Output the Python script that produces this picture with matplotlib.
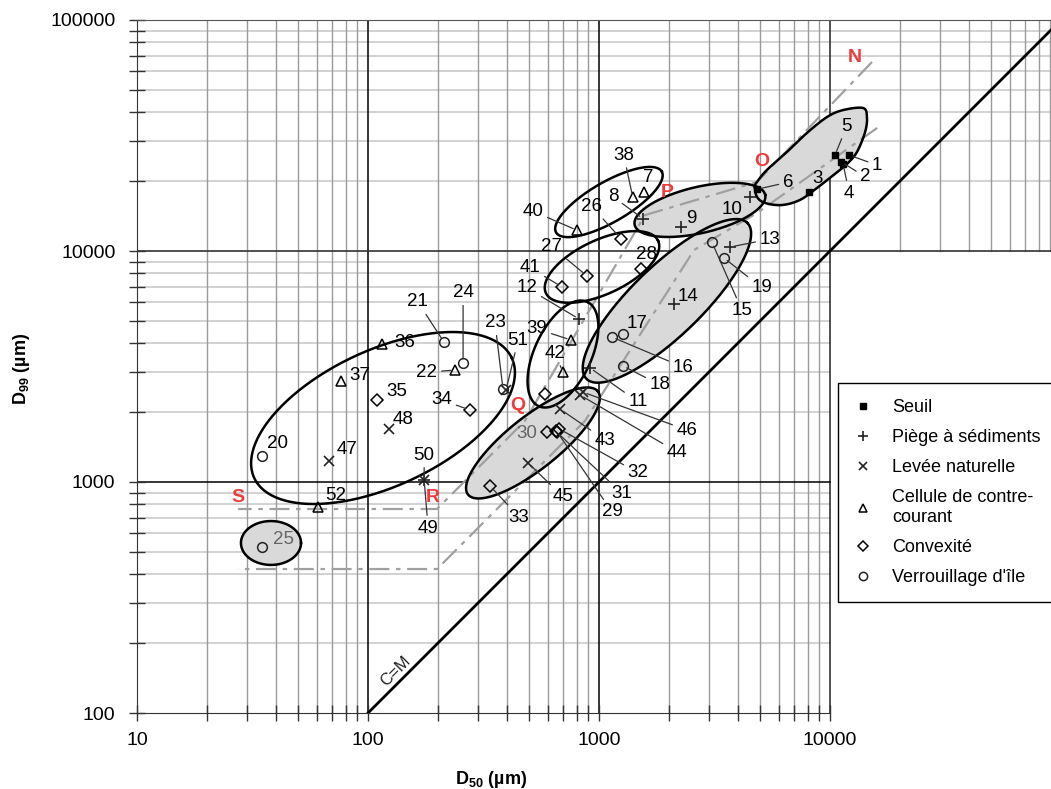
import numpy as np
import matplotlib
matplotlib.use('Agg')
import matplotlib.pyplot as plt
from matplotlib.lines import Line2D
from matplotlib.ticker import FixedLocator, FixedFormatter, NullFormatter

plt.rcParams['font.family'] = ['Liberation Sans', 'DejaVu Sans']
plt.rcParams['mathtext.fontset'] = 'custom'
plt.rcParams['mathtext.rm'] = 'Liberation Sans'
plt.rcParams['mathtext.bf'] = 'Liberation Sans:bold'

# Echantillons par type de milieu : numero, D50 (um), D99 (um)
seuil_id = ['1', '2', '3', '4', '5', '6']
seuil_d50 = [12100, 11200, 8100, 11400, 10500, 4830]
seuil_d99 = [26000, 24300, 18000, 23800, 26000, 18500]

piege_id = ['8', '9', '10', '11', '12', '13', '14', '49']
piege_d50 = [1550, 2270, 4500, 914, 819, 3690, 2110, 175]
piege_d99 = [13800, 12700, 17100, 3120, 5080, 10400, 5900, 1020]

levee_id = ['43', '44', '45', '46', '47', '48', '50', '51']
levee_d50 = [678, 828, 493, 852, 67.8, 123, 175, 396]
levee_d99 = [2070, 2380, 1210, 2450, 1230, 1700, 1020, 2500]

cellule_id = ['7', '22', '36', '37', '38', '39', '40', '42', '52']
cellule_d50 = [1565, 238, 115, 76.4, 1400, 756, 803, 698, 60.8]
cellule_d99 = [18000, 3050, 3960, 2740, 17100, 4120, 12300, 2990, 779]

convex_id = ['26', '27', '28', '29', '30', '31', '32', '33', '34', '35', '41', '']
convex_d50 = [1245, 887, 1520, 658, 596, 650, 671, 338, 276, 109, 692, 584]
convex_d99 = [11300, 7800, 8360, 1650, 1650, 1660, 1700, 960, 2050, 2270, 6990, 2400]

verrou_id = ['15', '16', '17', '18', '19', '20', '21', '23', '24', '25']
verrou_d50 = [3085, 1138, 1270, 1270, 3476, 34.8, 213, 384, 258, 34.8]
verrou_d99 = [10900, 4240, 4370, 3180, 9330, 1300, 4040, 2530, 3280, 523]

# Limites du diagramme de Passega (segments NO, OP, PQ, QR, RS)
passega_pts = ['N', 'O', 'P', 'Q', 'R', 'S']
haut_m = [15200, 4830, 1580, 478, 199, 27.4]
haut_c = [65800, 19900, 14300, 1840, 764, 764]
bas_m = [16000, 4830, 2580, 870, 199, 27.4]
bas_c = [34100, 14600, 10100, 1840, 420, 420]

# decalage des etiquettes en pixels (dx, dy, trait de rappel)
lab_pos = {
    '1': (28, -10, True), '2': (24, -15, True), '3': (9, 14, False), '4': (6, -29, True),
    '5': (12, 29, True), '6': (31, 7, True), '7': (4, 15, False), '8': (-30, 22, True),
    '9': (10, 9, False), '10': (-18, -12, False), '11': (48, -34, True), '12': (-52, 31, True),
    '13': (40, 8, True), '14': (14, 7, False), '15': (30, -68, True), '16': (71, -30, True),
    '17': (14, 11, False), '18': (37, -19, True), '19': (38, -30, True), '20': (15, 12, False),
    '21': (-26, 40, True), '22': (-28, -2, True), '23': (-8, 66, True), '24': (0, 70, True),
    '25': (21, 8, False), '26': (-29, 32, True), '27': (-35, 29, True), '28': (5, 14, False),
    '29': (55, -80, True), '30': (-20, -2, False), '31': (66, -62, True), '32': (79, -44, True),
    '33': (29, -31, True), '34': (-28, 10, True), '35': (20, 8, False), '36': (23, 1, False),
    '37': (19, 5, False), '38': (-9, 42, True), '39': (-34, 11, True), '40': (-44, 19, True),
    '41': (-32, 19, True), '42': (-8, 19, True), '43': (45, -31, True), '44': (97, -57, True),
    '45': (35, -34, True), '46': (104, -38, True), '47': (18, 12, False), '48': (14, 9, False),
    '49': (4, -48, True), '50': (0, 25, True), '51': (12, 50, True), '52': (18, 12, False),
}
gris_lab = ['25', '30']

W, H = 1051, 789
fig = plt.figure(figsize=(W / 100, H / 100), dpi=100)
ax = fig.add_axes([137 / W, 1 - 713 / H, (W - 137) / W, (713 - 20) / H])
xmax = 10 ** (1 + (W - 137) / 231)
ax.set_xscale('log')
ax.set_yscale('log')
ax.set_xlim(10, xmax)
ax.set_ylim(100, 100000)

# quadrillage
for dec in [10, 100, 1000, 10000]:
    for k in range(2, 10):
        xv = k * dec
        if xv > xmax:
            break
        y0 = 10000 if dec == 10000 else 100
        ax.plot([xv, xv], [y0, 100000], color='#9a9a9a', lw=1, zorder=0.5)
for dec in [100, 1000, 10000]:
    for k in range(2, 10):
        x1 = xmax if dec == 10000 else 10000
        ax.plot([10, x1], [k * dec] * 2, color='#cfcfcf', lw=1.3, zorder=0.4)
for xv in [100, 1000]:
    ax.plot([xv, xv], [100, 100000], color='black', lw=1.1, zorder=0.6)
ax.plot([10000, 10000], [100, 100000], color='#333333', lw=1.2, zorder=0.6)
ax.plot([10, 10000], [1000, 1000], color='black', lw=1.1, zorder=0.6)
ax.plot([10, xmax], [10000, 10000], color='#333333', lw=1.2, zorder=0.6)

ax.spines['right'].set_visible(False)
ax.spines['top'].set_color('#555555')
ax.spines['bottom'].set_bounds(10, 10000)
ax.spines['left'].set_color('#333333')
ax.spines['bottom'].set_color('#333333')

minors_x = [k * d for d in [10, 100, 1000] for k in range(2, 10)]
minors_y = [k * d for d in [100, 1000, 10000] for k in range(2, 10)]
ax.xaxis.set_major_locator(FixedLocator([10, 100, 1000, 10000]))
ax.xaxis.set_major_formatter(FixedFormatter(['10', '100', '1000', '10000']))
ax.xaxis.set_minor_locator(FixedLocator(minors_x))
ax.xaxis.set_minor_formatter(NullFormatter())
ax.yaxis.set_major_locator(FixedLocator([100, 1000, 10000, 100000]))
ax.yaxis.set_major_formatter(FixedFormatter(['100', '1000', '10000', '100000']))
ax.yaxis.set_minor_locator(FixedLocator(minors_y))
ax.yaxis.set_minor_formatter(NullFormatter())
ax.tick_params(which='both', direction='inout', length=11, width=1, color='#333333')
ax.tick_params(axis='x', which='major', labelsize=14, pad=8)
ax.tick_params(axis='y', which='major', labelsize=14, pad=10)

# droite C=M
cm = np.array([100, xmax])
ax.plot(cm, cm, color='black', lw=2, zorder=3)
ax.text(132, 152, 'C=M', rotation=45, fontsize=12, color='#222222',
        ha='center', va='center', zorder=3)

# segments de Passega
sty = dict(color='#a0a0a0', lw=1.6, dashes=(9, 3, 2, 3), zorder=2.2)
ax.plot(haut_m, haut_c, **sty)
ax.plot(bas_m, bas_c, **sty)
red_off = {'N': (-17, 4), 'O': (5, 20), 'P': (22, 23), 'Q': (-7, 15), 'R': (-4, 12), 'S': (0, 12)}
for p, m, c in zip(passega_pts, haut_m, haut_c):
    ax.annotate(p, (m, c), xytext=red_off[p], textcoords='offset pixels',
                color='#ee3b3b', fontsize=14, fontweight='bold', ha='center', va='center', zorder=5)


def ellipse_log(lx, ly, a, b, ang, shaded):
    t = np.linspace(0, 2 * np.pi, 300)
    th = np.radians(ang)
    u, v = a * np.cos(t), b * np.sin(t)
    ex = lx + u * np.cos(th) - v * np.sin(th)
    ey = ly + u * np.sin(th) + v * np.cos(th)
    if shaded:
        ax.fill(10 ** ex, 10 ** ey, facecolor='#d9d9d9', edgecolor='none', zorder=1.5)
    ax.plot(10 ** ex, 10 ** ey, color='black', lw=1.8, zorder=3)


def closed_spline(lx, ly, n=40):
    px, py = np.array(lx), np.array(ly)
    m = len(px)
    ox, oy = [], []
    for i in range(m):
        p0, p1, p2, p3 = [(px[(i + j) % m], py[(i + j) % m]) for j in (-1, 0, 1, 2)]
        for t in np.linspace(0, 1, n, endpoint=False):
            t2, t3 = t * t, t * t * t
            for arr, k in ((ox, 0), (oy, 1)):
                arr.append(0.5 * (2 * p1[k] + (-p0[k] + p2[k]) * t
                                  + (2 * p0[k] - 5 * p1[k] + 4 * p2[k] - p3[k]) * t2
                                  + (-p0[k] + 3 * p1[k] - 3 * p2[k] + p3[k]) * t3))
    ox.append(ox[0]); oy.append(oy[0])
    return 10 ** np.array(ox), 10 ** np.array(oy)


# groupes d'echantillons
ellipse_log(2.065, 3.277, 0.615, 0.294, 25, False)
ellipse_log(1.580, 2.736, 0.130, 0.095, 0, True)
ellipse_log(2.714, 3.169, 0.359, 0.113, 38.5, True)
ellipse_log(2.844, 3.554, 0.249, 0.123, 65, False)
ellipse_log(3.294, 3.784, 0.485, 0.152, 44, True)
ellipse_log(3.013, 3.931, 0.268, 0.117, 25, False)
ellipse_log(3.043, 4.212, 0.264, 0.087, 30, False)
ellipse_log(3.437, 4.178, 0.290, 0.100, 13, True)

blob_lx = [3.675, 3.684, 3.727, 3.814, 3.900, 3.987, 4.056, 4.143, 4.160, 4.152,
           4.117, 4.078, 4.043, 3.944, 3.870, 3.792, 3.719, 3.684]
blob_ly = [4.277, 4.299, 4.351, 4.429, 4.511, 4.580, 4.610, 4.619, 4.580, 4.515,
           4.429, 4.381, 4.351, 4.273, 4.221, 4.199, 4.208, 4.234]
bx, by = closed_spline(blob_lx, blob_ly)
ax.fill(bx, by, facecolor='#d9d9d9', edgecolor='none', zorder=1.5)
ax.plot(bx, by, color='black', lw=1.8, zorder=3)

groups = [
    ('Seuil', seuil_id, seuil_d50, seuil_d99, dict(marker='s', ms=5, mfc='black', mec='black')),
    ('Piège à sédiments', piege_id, piege_d50, piege_d99, dict(marker='+', ms=9, mec='#222222', mew=1.2)),
    ('Levée naturelle', levee_id, levee_d50, levee_d99, dict(marker='x', ms=7.5, mec='#222222', mew=1.2)),
    ('Cellule de contre-\ncourant', cellule_id, cellule_d50, cellule_d99,
     dict(marker='^', ms=7, mfc='none', mec='black', mew=1.1)),
    ('Convexité', convex_id, convex_d50, convex_d99, dict(marker='D', ms=6, mfc='none', mec='black', mew=1.1)),
    ("Verrouillage d'île", verrou_id, verrou_d50, verrou_d99,
     dict(marker='o', ms=7, mfc='none', mec='#222222', mew=1.1)),
]
handles = []
for name, ids, d50, d99, mk in groups:
    ax.plot(d50, d99, ls='none', zorder=4, **mk)
    handles.append(Line2D([], [], ls='none', label=name, **dict(mk, ms=mk['ms'] * 0.85)))
    for sid, m, c in zip(ids, d50, d99):
        if sid not in lab_pos:
            continue
        dx, dy, lead = lab_pos[sid]
        col = '#666666' if sid in gris_lab else 'black'
        arrow = dict(arrowstyle='-', color='#333333', lw=0.9, shrinkA=1, shrinkB=3) if lead else None
        ax.annotate(sid, (m, c), xytext=(dx, dy), textcoords='offset pixels', fontsize=13.5,
                    color=col, ha='center', va='center', arrowprops=arrow, zorder=5)

leg = ax.legend(handles=handles, loc='upper left', bbox_to_anchor=(838 / W, 1 - 383 / H),
                bbox_transform=fig.transFigure, borderaxespad=0, fontsize=13, frameon=True,
                fancybox=False, framealpha=1, edgecolor='black', borderpad=0.9,
                handlelength=1.0, handletextpad=1.1, labelspacing=0.72)
leg.get_frame().set_linewidth(1)
leg.set_zorder(6)

fig.text(491 / W, 1 - 779 / H, r'$\mathbf{D_{50}}$ (µm)', fontsize=13, fontweight='bold',
         ha='center', va='center')
fig.text(22 / W, 1 - 369 / H, r'$\mathbf{D_{99}}$ (µm)', fontsize=13, fontweight='bold',
         ha='center', va='center', rotation=90)

fig.savefig('out.png', dpi=100)
